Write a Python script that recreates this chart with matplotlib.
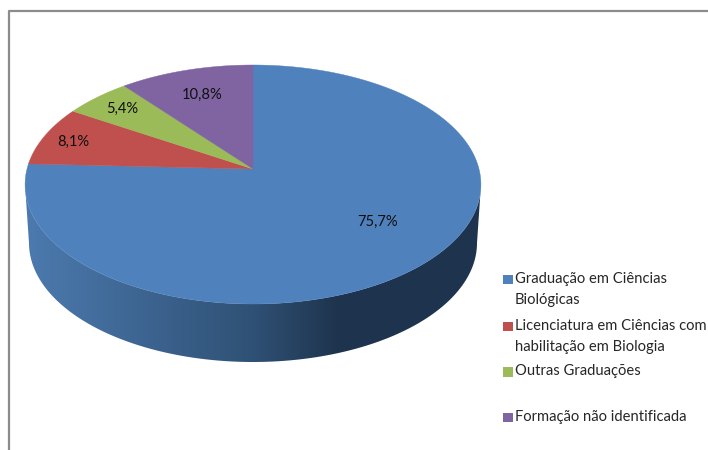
# pie chart with a fake 3D rim, drawn in pixel coordinates of the 708x450 picture

import numpy as np
import matplotlib
matplotlib.use("Agg")
import matplotlib.pyplot as plt
from matplotlib.patches import Polygon, Rectangle

# data, clockwise from 12 o'clock
labels = ["Graduação em Ciências\nBiológicas",
          "Licenciatura em Ciências com\nhabilitação em Biologia",
          "Outras Graduações",
          "Formação não identificada"]
values = [75.7, 8.1, 5.4, 10.8]
valueLabels = ["75,7%", "8,1%", "5,4%", "10,8%"]
colors = ["#4F81BD", "#C0504D", "#9BBB59", "#8064A2"]

# figure appearance
WIDTH = 708
HEIGHT = 450
CX = 253
CY = 184.5
RX = 226
RY = 119.5
APEX_SHIFT = 15.5
TILT = APEX_SHIFT * 2 / (RY * 2)
RIM_CY = 243
RIM_RX = 224
RIM_RY = 119
FONT = "Lato"
TEXT_SIZE = 10.6
FRAME = "#8C8C8C"

labelPos = [(378, 222), (73, 142), (122, 109), (202, 95)]
legendY = [279, 326, 371.5, 417]
legendTextY = [289.5, 336.5, 371, 417]


def project(theta):
    """ Perspective view of the unit circle, theta clockwise from the top. """
    x = np.sin(theta)
    y = np.cos(theta)
    w = 1 + TILT * y
    return CX + RX * x / w, CY - (RY * y + APEX_SHIFT) / w


apexX = CX
apexY = CY - APEX_SHIFT

fig = plt.figure(figsize=(WIDTH / 100, HEIGHT / 100), dpi=100)
ax = fig.add_axes([0, 0, 1, 1])
ax.set_xlim(0, WIDTH)
ax.set_ylim(HEIGHT, 0)
ax.axis("off")

# frame of the chart, only left and top show up
ax.plot([9, 9, 708], [450, 10.5, 10.5], color=FRAME, lw=1.6, solid_capstyle="butt")

# rim with a left to right shading
t = np.linspace(0, np.pi, 200)
topX = CX + (RX + 2) * np.cos(t)
topY = CY + RY * np.sin(t)
rimX = CX + RIM_RX * np.cos(t[::-1])
rimY = RIM_CY + RIM_RY * np.sin(t[::-1])
rim = Polygon(np.column_stack([np.r_[topX, rimX], np.r_[topY, rimY]]),
              closed=True, fc="none", ec="none")
ax.add_patch(rim)
shade = matplotlib.colors.LinearSegmentedColormap.from_list(
    "rim", [(0, "#4C7AAF"), (0.5, "#2F5175"), (0.68, "#1F354F"), (1, "#1E344E")])
im = ax.imshow(np.linspace(0, 1, 256).reshape(1, -1), cmap=shade, aspect="auto",
               extent=[CX - RX - 2, CX + RX + 2, 370, 180], zorder=1)
im.set_clip_path(rim)
ax.set_xlim(0, WIDTH)
ax.set_ylim(HEIGHT, 0)

# top face: slices run clockwise, the big one starts at 12 o'clock
edges = np.r_[0, np.cumsum(values)] / sum(values) * 2 * np.pi
for i in range(len(values)):
    theta = np.linspace(edges[i], edges[i + 1], 300)
    x, y = project(theta)
    ax.add_patch(Polygon(np.column_stack([np.r_[apexX, x], np.r_[apexY, y]]),
                         closed=True, fc=colors[i], ec=colors[i], lw=0.3, zorder=2))

for i in range(len(values)):
    ax.text(labelPos[i][0], labelPos[i][1], valueLabels[i], family=FONT, size=TEXT_SIZE,
            color="#101010", ha="center", va="center", zorder=3)

# legend
for i in range(len(labels)):
    ax.add_patch(Rectangle((503, legendY[i] - 4.5), 9.5, 9.5, fc=colors[i], ec="none", zorder=3))
    ax.text(515, legendTextY[i], labels[i], family=FONT, size=TEXT_SIZE, color="#262626",
            ha="left", va="center", linespacing=1.7, zorder=3)

fig.savefig("out.png", dpi=100)
